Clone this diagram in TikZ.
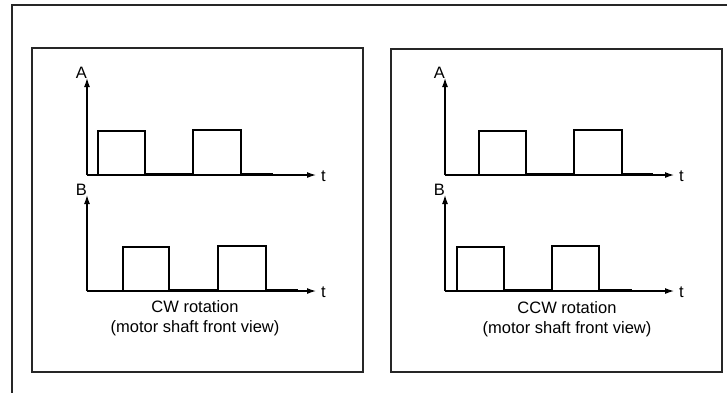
\documentclass[tikz,border=0pt]{standalone}
\usepackage{fontspec}
\setmainfont{Liberation Sans}
\usetikzlibrary{arrows.meta, positioning}

\begin{document}
\begin{tikzpicture}[x=1pt,y=-1pt,
  frame/.style={draw=black!85,line width=1.6pt},
  panel/.style={draw=black!85,line width=1.2pt},
  axis/.style={-{Latex[length=9pt,width=6pt]},line width=1.2pt},
  wave/.style={line width=1.2pt,line join=miter},
  lbl/.style={font=\fontsize{16.5}{19}\selectfont,inner sep=0pt},
  caption/.style={font=\fontsize{16.5}{20}\selectfont,align=center,inner sep=0pt}
]
  \useasboundingbox (0,0) rectangle (727,392);
  \clip (0,0) rectangle (727,392);
  \draw[frame] (12,5) rectangle (760,420);

  \draw[panel] (32,48) rectangle (363,372);
  \draw[panel] (391,49) rectangle (722,372);

  % CW
  \coordinate (oa1) at (87,175);  \coordinate (ya1) at (87,78);  \coordinate (xa1) at (316,175);
  \coordinate (ob1) at (87,291);  \coordinate (yb1) at (87,195); \coordinate (xb1) at (316,291);
  \draw[axis] (oa1) -- (ya1);  \draw[axis] (oa1) -- (xa1);
  \draw[axis] (ob1) -- (yb1);  \draw[axis] (ob1) -- (xb1);
  \node[lbl,left=0pt of ya1,yshift=5pt] (la1) {A};
  \node[lbl,right=5pt of xa1,yshift=-1pt] (ta1) {t};
  \node[lbl,left=0pt of yb1,yshift=5pt] (lb1) {B};
  \node[lbl,right=5pt of xb1,yshift=-1pt] (tb1) {t};
  \draw[wave] (98,175) -- (98,131) -- (145,131) -- (145,174) -- (193,174) -- (193,130) -- (241,130) -- (241,174) -- (273,174);
  \draw[wave] (123,291) -- (123,247) -- (169,247) -- (169,290) -- (218,290) -- (218,246) -- (266,246) -- (266,290) -- (298,290);
  \node[caption] (cw) at (195,318) {CW rotation\\(motor shaft front view)};

  % CCW
  \coordinate (oa2) at (445,175); \coordinate (ya2) at (445,78);  \coordinate (xa2) at (674,175);
  \coordinate (ob2) at (445,291); \coordinate (yb2) at (445,195); \coordinate (xb2) at (674,291);
  \draw[axis] (oa2) -- (ya2);  \draw[axis] (oa2) -- (xa2);
  \draw[axis] (ob2) -- (yb2);  \draw[axis] (ob2) -- (xb2);
  \node[lbl,left=0pt of ya2,yshift=5pt] (la2) {A};
  \node[lbl,right=5pt of xa2,yshift=-1pt] (ta2) {t};
  \node[lbl,left=0pt of yb2,yshift=5pt] (lb2) {B};
  \node[lbl,right=5pt of xb2,yshift=-1pt] (tb2) {t};
  \draw[wave] (479,175) -- (479,131) -- (526,131) -- (526,174) -- (574,174) -- (574,130) -- (622,130) -- (622,174) -- (653,174);
  \draw[wave] (457,291) -- (457,247) -- (504,247) -- (504,290) -- (552,290) -- (552,246) -- (599,246) -- (599,290) -- (632,290);
  \node[caption] (ccw) at (567,319) {CCW rotation\\(motor shaft front view)};
\end{tikzpicture}
\end{document}
